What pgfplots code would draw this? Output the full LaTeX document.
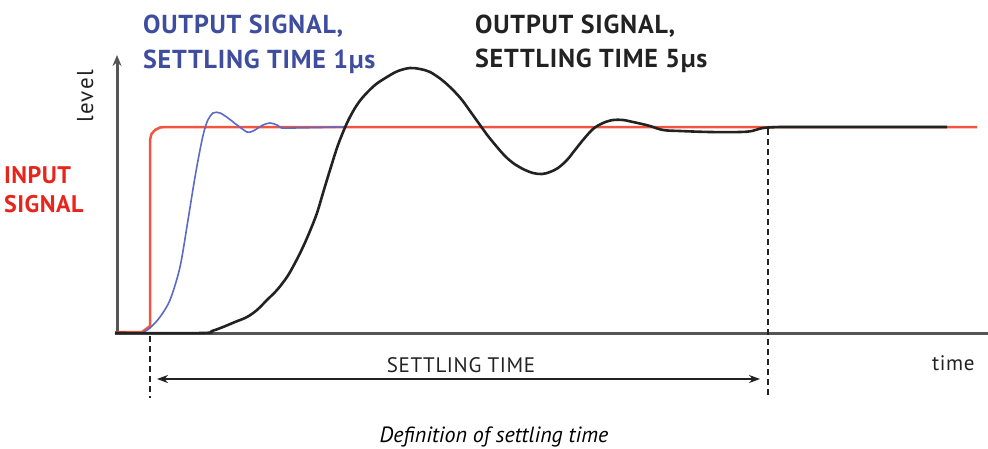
\documentclass[border=0pt]{standalone}
\usepackage{fontspec}
\setmainfont{PT Sans}
\usepackage{pgfplots}
\pgfplotsset{compat=1.18}
\usetikzlibrary{arrows.meta}
\definecolor{axgray}{HTML}{555555}
\definecolor{inred}{HTML}{F2553F}
\definecolor{txtred}{HTML}{E8251C}
\definecolor{outblue}{HTML}{5B6AC6}
\definecolor{txtblue}{HTML}{3E4D9E}
\definecolor{outblack}{HTML}{222222}
\definecolor{txtblack}{HTML}{222222}
\newcommand\ttl{\fontsize{26}{30}\selectfont\bfseries\addfontfeature{LetterSpace=3}}
\newcommand\reg[1]{\fontsize{#1}{24}\selectfont\addfontfeature{LetterSpace=3}}
\begin{document}
\begin{tikzpicture}
\begin{axis}[
  scale only axis, width=988pt, height=448pt,
  xmin=0, xmax=988, ymin=0, ymax=448, y dir=reverse,
  hide axis, clip=false,
]
% axes
\addplot[axgray, line width=3pt] coordinates {(115,333) (988,333)};
\addplot[axgray, line width=3pt, -{Stealth[length=11pt,width=9pt]}] coordinates {(117,334) (117,55)};
% input signal
\addplot[inred, line width=2.5pt] coordinates {
(115,332) (142,332) (150,326) (150,140) (151.5,134) (155,130) (160,127.5) (165,127) (977,127)};
% fast output
\addplot[outblue, line width=1.6pt, smooth, tension=0.5] coordinates {
(142,333) (150,328) (160,317) (170,300) (180,267) (188,220) (195,177) (202,140)
(207,122) (213,113) (220,113) (228,118) (237,125) (247,132) (253,131) (263,125)
(270,123) (277,125) (282,128) (293,128) (345,127)};
% slow output
\addplot[outblack, line width=2.6pt, smooth, tension=0.55] coordinates {
(115,333) (202,333) (212,331) (223,327) (235,322) (247,317) (257,310) (267,300)
(277,290) (287,277) (295,263) (303,247) (310,231) (317,213) (323,193) (330,170)
(338,145) (347,123) (355,108) (363,97) (375,85) (387,77) (398,71) (410,68)
(420,69) (430,72) (442,80) (453,90) (462,100) (470,111) (480,125) (488,136)
(497,147) (505,156) (513,163) (523,169) (533,173) (542,174) (550,172) (558,168)
(567,160) (575,150) (583,140) (593,129) (603,123) (613,120) (623,120) (633,122)
(642,124) (650,126) (663,130) (680,131) (710,132) (740,132) (752,131) (763,128)
(780,127) (797,127) (947,127)};
% dashed markers
\addplot[outblack, line width=2.4pt, dash pattern=on 6pt off 4pt] coordinates {(150,336) (150,398)};
\addplot[outblack, line width=2.4pt, dash pattern=on 6pt off 4pt] coordinates {(768,129) (768,398)};
% settling time arrow
\addplot[outblack, line width=2pt, {Stealth[length=11pt,width=8pt]}-{Stealth[length=11pt,width=8pt]}] coordinates {(157,379) (760,379)};
% texts
\node[anchor=base west, inner sep=0pt, text=txtblue, font=\ttl] at (axis cs:143,33) {OUTPUT SIGNAL,};
\node[anchor=base west, inner sep=0pt, text=txtblue, font=\ttl] at (axis cs:143,68) {SETTLING TIME 1µs};
\node[anchor=base west, inner sep=0pt, text=txtblack, font=\ttl] at (axis cs:475,33) {OUTPUT SIGNAL,};
\node[anchor=base west, inner sep=0pt, text=txtblack, font=\ttl] at (axis cs:475,67) {SETTLING TIME 5µs};
\node[anchor=base west, inner sep=0pt, text=txtred, font=\fontsize{24}{28}\selectfont\bfseries\addfontfeature{LetterSpace=2}] at (axis cs:4,183) {INPUT};
\node[anchor=base west, inner sep=0pt, text=txtred, font=\fontsize{24}{28}\selectfont\bfseries\addfontfeature{LetterSpace=2}] at (axis cs:4,212) {SIGNAL};
\node[anchor=base west, inner sep=0pt, rotate=90, text=txtblack, font=\fontsize{23}{24}\selectfont\addfontfeature{LetterSpace=6}] at (axis cs:93,123) {level};
\node[anchor=base west, inner sep=0pt, text=txtblack, font=\reg{21}] at (axis cs:932,370) {time};
\node[anchor=base, inner sep=0pt, text=txtblack, font=\reg{21}] at (axis cs:461,372) {SETTLING TIME};
\node[anchor=base, inner sep=0pt, text=black, font=\fontsize{22}{26}\selectfont\itshape] at (axis cs:494,442) {Definition of settling time};
\end{axis}
\pgfresetboundingbox
\useasboundingbox (0,0) rectangle (988pt,448pt);
\end{tikzpicture}
\end{document}
